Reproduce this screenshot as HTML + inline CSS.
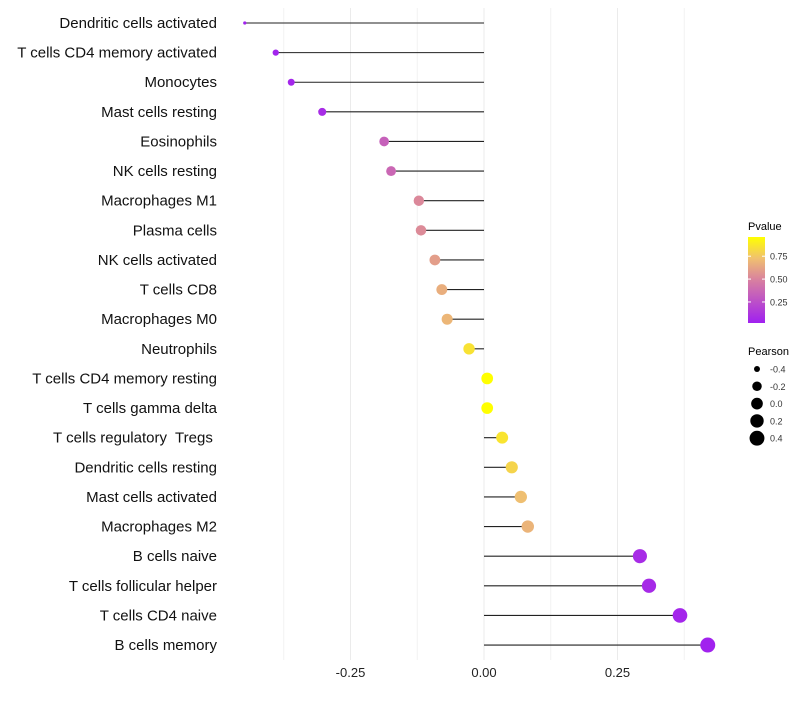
<!DOCTYPE html>
<html><head><meta charset="utf-8"><style>
body{margin:0;background:#fff;font-family:"Liberation Sans",Arial,sans-serif;}
svg text{font-family:"Liberation Sans",Arial,sans-serif;white-space:pre;}
</style></head><body>
<svg id="chart" width="800" height="700" viewBox="0 0 800 700">
<defs><linearGradient id="pg" x1="0" y1="1" x2="0" y2="0">
<stop offset="0" stop-color="#a020f0"/><stop offset="0.5" stop-color="#d880a0"/><stop offset="0.75" stop-color="#f0c070"/><stop offset="1" stop-color="#ffff00"/>
</linearGradient></defs>
<g id="grid"></g>
<g id="marks"></g>
<g id="ylab"></g>
<g id="xlab"></g>
<g>
<text x="748" y="230" font-size="11">Pvalue</text>
<rect x="748" y="237" width="17" height="86" fill="url(#pg)"/>
<g id="cbticks"></g>
</g>
<g id="sizeleg">
<text x="748" y="355" font-size="11">Pearson</text>
</g>
</svg>
<script>
const categories=["Dendritic cells activated","T cells CD4 memory activated","Monocytes","Mast cells resting","Eosinophils","NK cells resting","Macrophages M1","Plasma cells","NK cells activated","T cells CD8","Macrophages M0","Neutrophils","T cells CD4 memory resting","T cells gamma delta","T cells regulatory  Tregs ","Dendritic cells resting","Mast cells activated","Macrophages M2","B cells naive","T cells follicular helper","T cells CD4 naive","B cells memory"];
const pearson=[-0.448,-0.390,-0.361,-0.303,-0.187,-0.174,-0.122,-0.118,-0.092,-0.079,-0.069,-0.028,0.006,0.006,0.034,0.052,0.069,0.082,0.292,0.309,0.367,0.419];
const pvalue=[0.03,0.04,0.05,0.08,0.34,0.37,0.52,0.53,0.60,0.66,0.69,0.85,0.98,0.98,0.86,0.80,0.72,0.68,0.08,0.07,0.05,0.03];
const xTicks=[-0.25,0,0.25];
const xTickLabels=["-0.25","0.00","0.25"];
const xMinor=[-0.375,-0.125,0.125,0.375];
const cbTicks=[0.25,0.5,0.75];
const cbTickLabels=["0.25","0.50","0.75"];
const sizeLegVals=[-0.4,-0.2,0,0.2,0.4];
const sizeLegLabels=["-0.4","-0.2","0.0","0.2","0.4"];

const NS="http://www.w3.org/2000/svg";
const X=v=>484+v*534;
const Y=i=>23+i*29.62;
const R=v=>1.6+5.9*Math.sqrt(Math.max(0,(v+0.448)/0.867));
const CB=p=>323-(p-0.02)/(0.96-0.02)*86;
function lerp(a,b,t){return a.map((x,i)=>Math.round(x+(b[i]-x)*t));}
const stops=[[0,[160,32,240]],[0.5,[216,128,160]],[0.75,[240,192,112]],[1,[255,255,0]]];
function color(p){let t=(p-0.02)/0.94;t=Math.max(0,Math.min(1,t));for(let k=1;k<stops.length;k++){if(t<=stops[k][0]){const [a,ca]=stops[k-1],[b,cb]=stops[k];const c=lerp(ca,cb,(t-a)/(b-a));return `rgb(${c})`;}}return "rgb(255,255,0)";}
function mk(tag,attrs,parent){const e=document.createElementNS(NS,tag);for(const k in attrs)e.setAttribute(k,attrs[k]);parent.appendChild(e);return e;}
const grid=document.getElementById('grid'),marks=document.getElementById('marks'),ylab=document.getElementById('ylab'),xlab=document.getElementById('xlab');
xMinor.forEach(v=>{const l=mk('line',{x1:X(v),x2:X(v),y1:8,y2:660,stroke:'#f2f2f2','stroke-width':1},grid);

});
xTicks.forEach((v,i)=>{const l=mk('line',{x1:X(v),x2:X(v),y1:8,y2:660,stroke:'#ebebeb','stroke-width':1},grid);


const t=mk('text',{x:X(v),y:677,'font-size':13,'text-anchor':'middle',fill:'#222'},xlab);t.textContent=xTickLabels[i];

});
categories.forEach((c,i)=>{const y=Y(i);
const l=mk('line',{x1:X(0),x2:X(pearson[i]),y1:y,y2:y,stroke:'#222','stroke-width':1.1},marks);


const d=mk('circle',{cx:X(pearson[i]),cy:y,r:R(pearson[i]),fill:color(pvalue[i])},marks);


const t=mk('text',{x:217,y:y+5,'font-size':15,'text-anchor':'end',fill:'#111'},ylab);t.textContent=c;

});
const cbt=document.getElementById('cbticks');
cbTicks.forEach((p,i)=>{const y=CB(p);
const a=mk('line',{x1:748,x2:751,y1:y,y2:y,stroke:'#fff','stroke-width':1},cbt);


const b=mk('line',{x1:762,x2:765,y1:y,y2:y,stroke:'#fff','stroke-width':1},cbt);


const t=mk('text',{x:770,y:y+3.5,'font-size':9,fill:'#333'},cbt);t.textContent=cbTickLabels[i];

});
const sl=document.getElementById('sizeleg');
sizeLegVals.forEach((v,i)=>{const y=369+i*17.3;
const c=mk('circle',{cx:757,cy:y,r:R(v),fill:'#000'},sl);


const t=mk('text',{x:770,y:y+3.5,'font-size':9,fill:'#333'},sl);t.textContent=sizeLegLabels[i];

});
</script>
</body></html>
